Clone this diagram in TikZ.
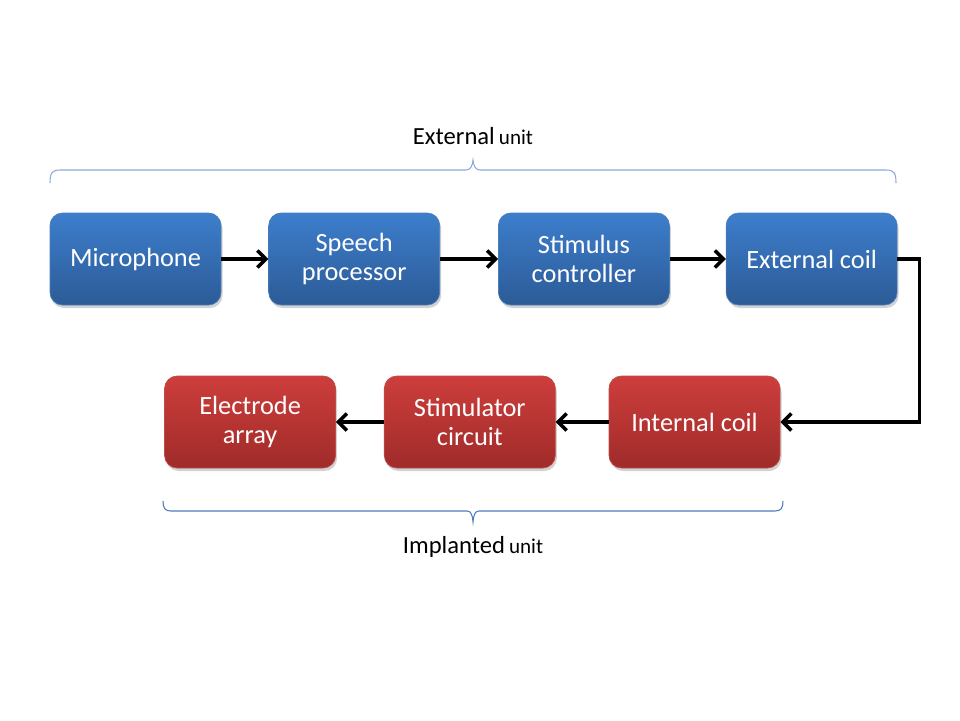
\documentclass[tikz,border=0pt]{standalone}
\usepackage{fontspec}
\setmainfont{Carlito}
\usepackage{tikz}
\usetikzlibrary{positioning, shadows, arrows.meta}

\definecolor{blueTop}{HTML}{3D7ECC}
\definecolor{blueBot}{HTML}{2C5B97}
\definecolor{blueEdge}{HTML}{4A7EBB}
\definecolor{redTop}{HTML}{CD3E3C}
\definecolor{redBot}{HTML}{9F2B29}
\definecolor{redEdge}{HTML}{BE4B48}
\definecolor{braceTop}{HTML}{8EAADB}
\definecolor{braceBot}{HTML}{4F7BBE}

\tikzset{
    unitbox/.style={draw, rectangle, rounded corners=2.5mm, line width=0.4pt,
        minimum width=3.42cm, minimum height=1.84cm, align=center,
        text=white, font=\fontsize{15}{16.5}\selectfont,
        drop shadow={opacity=0.35, shadow xshift=0.3mm, shadow yshift=-0.6mm}},
    extbox/.style={unitbox, draw=blueEdge, top color=blueTop, bottom color=blueBot},
    impbox/.style={unitbox, draw=redEdge, top color=redTop, bottom color=redBot},
    link/.style={line width=2pt, -{Straight Barb[length=1.7mm, width=3.4mm]}}
}

\begin{document}
\begin{tikzpicture}
\fill[white] (0,0) rectangle (19.2,-14.4);
\useasboundingbox (0,0) rectangle (19.2,-14.4);

% external unit
\node[extbox] (mic) at (2.71,-5.18) {Microphone};
\node[extbox, right=0.94cm of mic] (speech) {Speech\\processor};
\node[extbox, right=1.16cm of speech] (stimctl) {Stimulus\\controller};
\node[extbox, right=1.12cm of stimctl] (extcoil) {External coil};

% implanted unit
\node[impbox] (intcoil) at (13.89,-8.44) {Internal coil};
\node[impbox, left=1.06cm of intcoil] (stimcirc) {Stimulator\\circuit};
\node[impbox, left=0.96cm of stimcirc] (electrode) {Electrode\\array};

\draw[link] (mic) -- (speech);
\draw[link] (speech) -- (stimctl);
\draw[link] (stimctl) -- (extcoil);
\draw[link] (extcoil.east) -- ++(0.44,0) |- (intcoil.east);
\draw[link] (intcoil) -- (stimcirc);
\draw[link] (stimcirc) -- (electrode);

% braces
\coordinate (topL) at (1.0,-3.66);
\coordinate (topR) at (17.92,-3.66);
\coordinate (topM) at (9.46,-3.2);
\draw[braceTop, line width=0.6pt] (topL) .. controls (1.0,-3.46) and (1.04,-3.4) .. (1.2,-3.4)
    -- (9.32,-3.4) .. controls (9.42,-3.4) and (9.45,-3.3) .. (topM)
    .. controls (9.47,-3.3) and (9.5,-3.4) .. (9.6,-3.4)
    -- (17.72,-3.4) .. controls (17.88,-3.4) and (17.92,-3.46) .. (topR);
\node[font=\fontsize{14}{16}\selectfont, anchor=base] (extlabel) at (9.46,-2.88)
    {External\,{\fontsize{12}{14}\selectfont unit}};

\coordinate (botL) at (3.26,-10.02);
\coordinate (botR) at (15.66,-10.02);
\coordinate (botM) at (9.46,-10.44);
\draw[braceBot, line width=0.6pt] (botL) .. controls (3.26,-10.16) and (3.3,-10.22) .. (3.42,-10.22)
    -- (9.34,-10.22) .. controls (9.42,-10.22) and (9.45,-10.3) .. (botM)
    .. controls (9.47,-10.3) and (9.5,-10.22) .. (9.58,-10.22)
    -- (15.5,-10.22) .. controls (15.62,-10.22) and (15.66,-10.16) .. (botR);
\node[font=\fontsize{14}{16}\selectfont, anchor=base] (implabel) at (9.46,-11.06)
    {Implanted\,{\fontsize{12}{14}\selectfont unit}};
\end{tikzpicture}
\end{document}
